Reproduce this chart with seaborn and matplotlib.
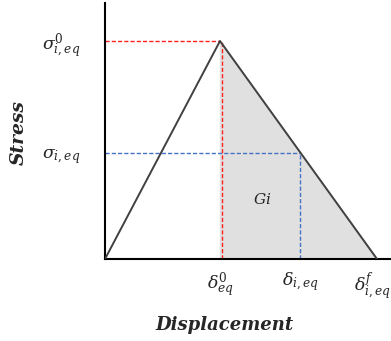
import matplotlib
matplotlib.use("Agg")
import matplotlib.pyplot as plt
import matplotlib.transforms as mtransforms
import seaborn as sns
import pandas as pd

sns.set_theme(style="white")
plt.rcParams["mathtext.fontset"] = "dejavuserif"

# traction-separation curve (displacement, stress)
disp = [0, 115, 272]
stress = [0, 218, 0]

delta0 = 115
delta_i = 195
delta_f = 272
sigma0 = 218
sigma_i = 106

x_ticks = [delta0, delta_i, delta_f]
x_labels = [r"$\delta^{0}_{eq}$", r"$\delta_{i,eq}$", r"$\delta^{f}_{i,eq}$"]
y_ticks = [sigma_i, sigma0]
y_labels = [r"$\sigma_{i,eq}$", r"$\sigma^{0}_{i,eq}$"]

df = pd.DataFrame({"Displacement": disp, "Stress": stress})

fig = plt.figure(figsize=(3.91, 3.41), dpi=100)
ax = fig.add_axes([105 / 391, 82 / 341, 1 - 105 / 391, 256 / 341])

# damaged area under the softening branch
ax.fill_between([delta0, delta_f], [sigma0, 0], 0, color="#e0e0e0", zorder=1)

sns.lineplot(data=df, x="Displacement", y="Stress", ax=ax, color="#404040",
             linewidth=1.4, zorder=3, sort=False)

# guide lines at the damage onset point
ax.plot([0, delta0], [sigma0, sigma0], color="#ff2020", ls=(0, (3, 1.5)), lw=1, zorder=2)
ax.plot([delta0 + 2, delta0 + 2], [0, sigma0], color="#ff2020", ls=(0, (3, 1.5)), lw=1, zorder=2)
# guide lines at the current state
ax.plot([0, delta_i], [sigma_i, sigma_i], color="#4472c4", ls=(0, (3, 1.5)), lw=1, zorder=2)
ax.plot([delta_i, delta_i], [0, sigma_i], color="#4472c4", ls=(0, (3, 1.5)), lw=1, zorder=2)

ax.text(157, 60, r"$Gi$", fontsize=11, ha="center", va="center")

ax.set_xlim(0, 286)
ax.set_ylim(0, 256)
ax.set_xticks(x_ticks)
ax.set_xticklabels(x_labels, fontsize=12.5)
ax.set_yticks(y_ticks)
ax.set_yticklabels(y_labels, fontsize=12.5)
ax.tick_params(axis="x", length=0, pad=8)
ax.tick_params(axis="y", length=0, pad=18)

# keep the last displacement label inside the figure
last = ax.get_xticklabels()[-1]
last.set_transform(last.get_transform() +
                   mtransforms.ScaledTranslation(-5 / 100, 0, fig.dpi_scale_trans))

for side in ["top", "right"]:
    ax.spines[side].set_visible(False)
for side in ["left", "bottom"]:
    ax.spines[side].set_color("black")
    ax.spines[side].set_linewidth(1.5)

ax.set_xlabel("Displacement", fontsize=13, fontweight="bold", fontstyle="italic",
              family="DejaVu Serif")
ax.set_ylabel("Stress", fontsize=13.5, fontweight="bold", fontstyle="italic",
              family="DejaVu Serif")
ax.xaxis.set_label_coords((225 - 105) / 286, -57 / 256)
ax.yaxis.set_label_coords(-77 / 286, (259 - 133) / 256)

fig.savefig("out.png", dpi=100)
